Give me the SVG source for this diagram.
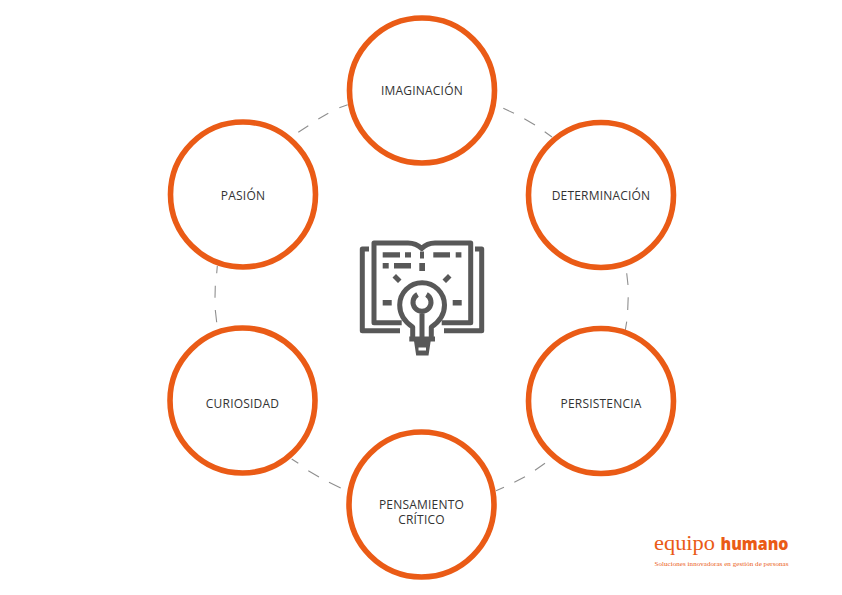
<svg xmlns="http://www.w3.org/2000/svg" width="842" height="595" viewBox="0 0 842 595">
<style>
.n{fill:#fff;stroke:#ea5b16;stroke-width:5.600}
.t{font-family:"Open Sans","Noto Sans",sans-serif;font-size:12px;font-weight:500;fill:#333;text-anchor:middle;letter-spacing:.2px}
.d{fill:none;stroke:#8f8f8f;stroke-width:1.100}
.i{fill:none;stroke:#585858;stroke-width:5;stroke-linejoin:round;stroke-linecap:butt}
.f{fill:#585858}
</style>
<rect width="842" height="595" fill="#fff"/>
<g id="connectors" class="d">
<path d="M503.300 108.300L514 113.300M524.300 118.700L535 125M544.700 131.700L552 137"/>
<path d="M626.700 273.300L628 285M628.200 297.300L627.700 310M626.700 321.700L625.300 330"/>
<path d="M545 463.300L535 470.300M525 476.700L514.300 482.300M504 487.300L496 490.700"/>
<path d="M340.700 488L329 482.300M319 477L308.300 470.700M298.300 463.300L291.700 459"/>
<path d="M216.700 322.300L215.300 310M215 297.700L215.300 285.700M216.700 273.300L217.300 266"/>
<path d="M298.300 132.300L308.300 125.700M318.300 119L328.300 113.300M339.300 107.700L347.700 104.700"/>
</g>
<g id="n-imaginacion"><circle class="n" cx="422" cy="90.500" r="72.500"/><text class="t" x="422" y="94.500">IMAGINACIÓN</text></g>
<g id="n-determinacion"><circle class="n" cx="601" cy="195" r="72.500"/><text class="t" x="601" y="199.500">DETERMINACIÓN</text></g>
<g id="n-persistencia"><circle class="n" cx="601" cy="401" r="72.500"/><text class="t" x="601" y="407.500">PERSISTENCIA</text></g>
<g id="n-pensamiento"><circle class="n" cx="421.500" cy="504.500" r="72.500"/><text class="t" x="421.500" y="508.500">PENSAMIENTO<tspan x="421.500" dy="15">CRÍTICO</tspan></text></g>
<g id="n-curiosidad"><circle class="n" cx="242.500" cy="400.500" r="72.500"/><text class="t" x="242.500" y="407.500">CURIOSIDAD</text></g>
<g id="n-pasion"><circle class="n" cx="243" cy="194.500" r="72.500"/><text class="t" x="243" y="199.500">PASIÓN</text></g>
<g id="icon">
<path class="i" d="M401.700 322.700H374V243H408Q416 243 421.700 248.500Q427 243 435 243H470.700V322.700H441.700"/>
<path class="i" d="M369 249H362.300V330.700H400M475 249H481.700V330.700H444"/>
<path class="f" d="M382.700 252.300h17.300v5.300h-17.300zM405 252.300h6v5.300h-6zM420 251.500h4v7h-4zM433.300 252.300h16.700v5.300h-16.700zM455.700 252.300h5.700v5.300h-5.700zM382.700 263h6v5.600h-6zM394 263h17v5.600h-17zM419.300 263h5.700v8h-5.700zM382.700 300h9v5.400h-9zM452.700 300h9v5.400h-9z"/>
<path class="f" d="M392.500 277.500l3.500-3.500 5.500 5.500-3.500 3.500zM451.500 277.500l-3.500-3.500-5.500 5.500 3.500 3.500z"/>
<path class="i" d="M412.700 338V327C405 322 399.700 314 399.700 305A22.400 22.400 0 0 1 444.500 305C444.500 314 439 322 431.300 327V338"/>
<path class="i" d="M409.300 339H435"/>
<path class="i" d="M417.500 294.500A9 9 0 1 0 426.500 294.500M422 312V338"/>
<path class="f" fill-rule="evenodd" d="M414 341H430.700L428.500 355.500H416.200ZM418.500 347.500V350.500H426V347.500Z"/>
</g>
<g id="logo">
<text x="654" y="549.500" font-family="Liberation Serif,serif" font-size="22" textLength="61" lengthAdjust="spacingAndGlyphs" fill="#ea5b16">equipo</text>
<text x="720.500" y="549.500" font-family="Open Sans,sans-serif" font-weight="800" font-size="17" textLength="68" lengthAdjust="spacingAndGlyphs" fill="#ea5b16">humano</text>
<text x="654.500" y="565.500" font-family="Liberation Serif,serif" font-size="7" textLength="134" fill="#ea5b16">Soluciones innovadoras en gestión de personas</text>
</g>
</svg>
